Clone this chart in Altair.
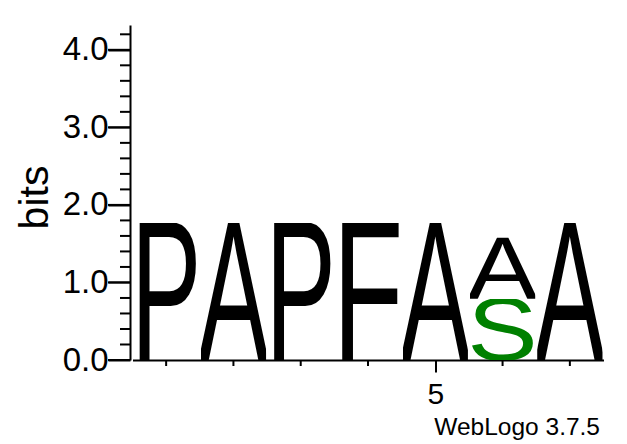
import urllib.parse
import altair as alt
import pandas as pd

positions = [1, 2, 3, 4, 5, 6, 6, 7]
letters = ["P", "A", "P", "F", "A", "S", "A", "A"]
heights = [1.77, 1.77, 1.77, 1.77, 1.77, 0.79, 0.79, 1.77]
letter_colors = {"P": "black", "A": "black", "F": "black", "S": "#008000"}
y_major = [0, 1, 2, 3, 4]
y_minor = [0.2, 0.4, 0.6, 0.8, 1.2, 1.4, 1.6, 1.8, 2.2, 2.4, 2.6, 2.8,
           3.2, 3.4, 3.6, 3.8, 4.2]
x_major = [5]
x_minor = [1, 2, 3, 4, 6, 7]
y_max = 4.32
footer = ["WebLogo 3.7.5"]

CAP = 0.688   # cap height of the font, in em
BEAR = 4      # trimmed side bearing (in 100-unit box)


def glyph_url(letter, color):
    fs = 100 / CAP
    svg = (
        '<svg xmlns="http://www.w3.org/2000/svg" width="100" height="100" '
        'viewBox="0 0 100 100" preserveAspectRatio="none">'
        f'<text x="{-BEAR}" y="100" font-family="Liberation Sans, Arial, sans-serif" '
        f'font-size="{fs:.2f}" textLength="{100 + 2 * BEAR}" '
        f'lengthAdjust="spacingAndGlyphs" fill="{color}">{letter}</text></svg>'
    )
    return "data:image/svg+xml;charset=utf-8," + urllib.parse.quote(svg)


rows = []
stack = {}
for p, l, h in zip(positions, letters, heights):
    base = stack.get(p, 0.0)
    rows.append({"pos": p, "letter": l, "y0": base, "y1": base + h,
                 "url": glyph_url(l, letter_colors[l])})
    stack[p] = base + h
df = pd.DataFrame(rows)

W, H = 471, 335
xs = alt.Scale(domain=[0.5, 7.5], nice=False, zero=False)
ys = alt.Scale(domain=[0, y_max], nice=False, zero=False)

x_axis = alt.Axis(
    values=x_major, tickSize=12, tickWidth=2, tickColor="black",
    domainColor="black", domainWidth=2, labelFontSize=30,
    labelFont="Liberation Sans", labelColor="black", labelPadding=7,
    grid=False, title=None, format="d")
y_axis = alt.Axis(
    values=y_major, tickSize=22, tickWidth=2, tickColor="black",
    domainColor="black", domainWidth=2, offset=2.5, labelFontSize=33,
    labelFont="Liberation Sans", labelColor="black", labelPadding=0,
    format=".1f", grid=False, title="bits", titleFontSize=41,
    titleFont="Liberation Sans", titleFontWeight="normal",
    titleColor="black", titleX=-83, titleY=172,
    titleBaseline="alphabetic")

glyphs = alt.Chart(df).mark_image(aspect=False).transform_calculate(
    x0="datum.pos - 0.485", x1="datum.pos + 0.485"
).encode(
    x=alt.X("x0:Q", scale=xs, axis=x_axis),
    x2="x1:Q",
    y=alt.Y("y0:Q", scale=ys, axis=y_axis),
    y2="y1:Q",
    url="url:N",
)

ymin = alt.Chart(pd.DataFrame({"v": y_minor})).mark_rule(
    color="black", strokeWidth=2
).encode(y=alt.Y("v:Q", scale=ys, axis=y_axis),
         x=alt.value(-12.5), x2=alt.value(-2.5))

ymaj = alt.Chart(pd.DataFrame({"v": y_major})).mark_rule(
    color="black", strokeWidth=2
).encode(y=alt.Y("v:Q", scale=ys, axis=y_axis),
         x=alt.value(-24.5), x2=alt.value(-2.5))

xmin = alt.Chart(pd.DataFrame({"v": x_minor})).mark_rule(
    color="black", strokeWidth=2
).encode(x=alt.X("v:Q", scale=xs, axis=x_axis),
         y=alt.value(H), y2=alt.value(H + 6))

foot = alt.Chart(pd.DataFrame({"t": footer})).mark_text(
    align="right", baseline="alphabetic", fontSize=24.5,
    font="Liberation Sans", color="black"
).encode(x=alt.value(467.5), y=alt.value(410), text="t:N")

chart = alt.layer(glyphs, ymin, ymaj, xmin, foot).properties(
    width=W, height=H,
    autosize=alt.AutoSizeParams(type="none"),
    padding={"left": 132.5, "top": 25, "right": 23.5, "bottom": 84},
    background="white",
).configure_view(stroke=None)

chart.save("out.html", embed_options={"renderer": "svg", "actions": False})
